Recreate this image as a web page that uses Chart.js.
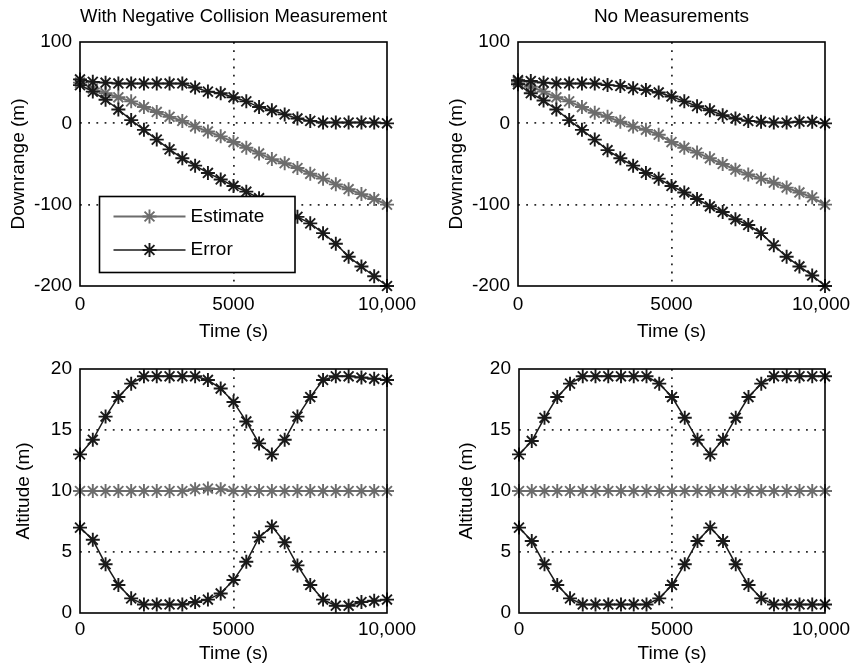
<!DOCTYPE html>
<html>
<head>
<meta charset="utf-8">
<script src="https://cdn.jsdelivr.net/npm/chart.js@4.4.1/dist/chart.umd.min.js"></script>
<style>
  body { margin: 0; background: #fff; overflow: hidden; }
  canvas { position: absolute; }
</style>
</head>
<body>
<canvas id="tl" width="426" height="345" style="left:0;top:0"></canvas>
<canvas id="tr" width="426" height="345" style="left:426px;top:0"></canvas>
<canvas id="bl" width="426" height="322" style="left:0;top:345px"></canvas>
<canvas id="br" width="426" height="322" style="left:426px;top:345px"></canvas>
<script>
// time samples (s)
const times = [0, 417, 833, 1250, 1667, 2083, 2500, 2917, 3333, 3750, 4167, 4583, 5000,
  5417, 5833, 6250, 6667, 7083, 7500, 7917, 8333, 8750, 9167, 9583, 10000];

const xTicks = [0, 5000, 10000];
const xTickLabels = ['0', '5000', '10,000'];
const downTicks = [-200, -100, 0, 100];
const downTickLabels = ['-200', '-100', '0', '100'];
const altTicks = [0, 5, 10, 15, 20];
const altTickLabels = ['0', '5', '10', '15', '20'];

const titles = ['With Negative Collision Measurement', 'No Measurements'];
const seriesNames = ['Estimate', 'Error'];

// downrange, with negative collision measurement
const tlEstimate = [50, 43, 37, 32, 27, 20, 14, 8, 3, -4, -10, -16, -23, -30, -37, -44, -49, -55, -62, -68, -75, -81, -87, -93, -100];
const tlUpper = [54, 51, 50, 49, 49, 49, 49, 49, 49, 44, 39, 37, 32, 27, 20, 16, 11, 6, 3, 1, 1, 1, 1, 1, 0];
const tlLower = [47, 39, 29, 17, 4, -8, -20, -32, -43, -52, -61, -69, -77, -84, -92, -100, -107, -115, -123, -135, -148, -164, -176, -188, -200];

// downrange, no measurements
const trEstimate = [51, 45, 39, 32, 27, 20, 13, 8, 2, -4, -8, -14, -23, -30, -36, -43, -50, -57, -63, -68, -73, -79, -85, -91, -100];
const trUpper = [53, 52, 50, 49, 49, 49, 49, 47, 46, 43, 41, 38, 33, 27, 21, 16, 10, 6, 3, 2, 1, 1, 2, 2, 0];
const trLower = [48, 37, 28, 17, 4, -8, -20, -33, -43, -52, -61, -68, -77, -85, -93, -102, -109, -118, -125, -135, -150, -164, -176, -187, -200];

// altitude, with negative collision measurement
const blEstimate = [10, 10, 10, 10, 10, 10, 10, 10, 10, 10.15, 10.2, 10.15, 10, 10, 10, 10, 10, 10, 10, 10, 10, 10, 10, 10, 10];
const blUpper = [13.0, 14.2, 16.1, 17.7, 18.8, 19.4, 19.4, 19.4, 19.4, 19.4, 19.1, 18.4, 17.3, 15.7, 13.9, 13.0, 14.2, 16.1, 17.7, 19.1, 19.4, 19.4, 19.3, 19.2, 19.1];
const blLower = [7.0, 6.0, 4.0, 2.3, 1.2, 0.7, 0.7, 0.7, 0.7, 0.9, 1.1, 1.6, 2.7, 4.2, 6.2, 7.1, 5.8, 3.9, 2.3, 1.1, 0.6, 0.6, 0.9, 1.0, 1.1];

// altitude, no measurements
const brEstimate = [10, 10, 10, 10, 10, 10, 10, 10, 10, 10, 10, 10, 10, 10, 10, 10, 10, 10, 10, 10, 10, 10, 10, 10, 10];
const brUpper = [13.0, 14.1, 16.0, 17.7, 18.8, 19.4, 19.4, 19.4, 19.4, 19.4, 19.4, 18.8, 17.7, 16.0, 14.2, 13.0, 14.2, 16.0, 17.7, 18.8, 19.4, 19.4, 19.4, 19.4, 19.4];
const brLower = [7.0, 5.9, 4.0, 2.3, 1.2, 0.7, 0.7, 0.7, 0.7, 0.7, 0.7, 1.2, 2.3, 4.0, 5.9, 7.0, 5.9, 4.0, 2.3, 1.2, 0.7, 0.7, 0.7, 0.7, 0.7];

const EST_COLOR = '#6c6c6c';
const ERR_COLOR = '#1a1a1a';
const FONT = { family: '"Liberation Sans", Arial, Helvetica, sans-serif', size: 19 };
const HALF_LINE = FONT.size * 1.2 / 2;

Chart.defaults.font.family = FONT.family;
Chart.defaults.font.size = FONT.size;
Chart.defaults.color = '#000';

function drawStar(ctx, x, y, r) {
  const d = r * Math.SQRT1_2;
  ctx.beginPath();
  ctx.moveTo(x - r, y); ctx.lineTo(x + r, y);
  ctx.moveTo(x, y - r); ctx.lineTo(x, y + r);
  ctx.moveTo(x - d, y - d); ctx.lineTo(x + d, y + d);
  ctx.moveTo(x - d, y + d); ctx.lineTo(x + d, y - d);
  ctx.stroke();
}

// black box round the plot area
const boxPlugin = {
  id: 'box',
  afterDatasetsDraw(chart) {
    const { ctx, chartArea: a } = chart;
    ctx.save();
    ctx.strokeStyle = '#000';
    ctx.lineWidth = 1.6;
    ctx.strokeRect(a.left, a.top, a.right - a.left, a.bottom - a.top);
    ctx.restore();
  }
};

// pull the last x label in a little so it stays inside the page
const lastLabelShift = {
  id: 'lastLabelShift',
  beforeDraw(chart, args, opts) {
    if (!opts.dx) return;
    const items = chart.scales.x.getLabelItems();
    const last = items[items.length - 1];
    if (last && last.options && last.options.translation) last.options.translation[0] += opts.dx;
  }
};

// boxed legend inside the plot
const legendBox = {
  id: 'legendBox',
  afterDraw(chart, args, opts) {
    if (!opts.show) return;
    const ctx = chart.ctx;
    ctx.save();
    ctx.fillStyle = '#fff';
    ctx.fillRect(opts.x, opts.y, opts.w, opts.h);
    ctx.strokeStyle = '#000';
    ctx.lineWidth = 1.6;
    ctx.strokeRect(opts.x, opts.y, opts.w, opts.h);
    seriesNames.forEach((name, i) => {
      const ds = chart.data.datasets.find(d => d.label === name);
      const y = opts.y + opts.rowTop + i * opts.rowGap;
      ctx.strokeStyle = ds.borderColor;
      ctx.lineWidth = ds.borderWidth;
      ctx.beginPath();
      ctx.moveTo(opts.x + opts.lineStart, y);
      ctx.lineTo(opts.x + opts.lineEnd, y);
      ctx.stroke();
      ctx.lineWidth = ds.pointBorderWidth;
      drawStar(ctx, opts.x + (opts.lineStart + opts.lineEnd) / 2, y, ds.pointRadius);
      ctx.fillStyle = '#000';
      ctx.font = FONT.size + 'px ' + FONT.family;
      ctx.textBaseline = 'middle';
      ctx.textAlign = 'left';
      ctx.fillText(name, opts.x + opts.textStart, y);
    });
    ctx.restore();
  }
};

function series(values, label, color, width) {
  return {
    label,
    data: times.map((t, i) => ({ x: t, y: values[i] })),
    borderColor: color,
    backgroundColor: color,
    borderWidth: width,
    pointStyle: 'star',
    pointRadius: 7,
    pointBorderWidth: 1.9,
    pointBorderColor: color,
    pointBackgroundColor: color,
    tension: 0,
    clip: false
  };
}

function makeChart(id, cfg) {
  const yMin = cfg.yTicks[0];
  const yMax = cfg.yTicks[cfg.yTicks.length - 1];
  const innerGrid = (lo, hi) => c =>
    (c.tick && c.tick.value > lo && c.tick.value < hi) ? '#2a2a2a' : 'rgba(0,0,0,0)';

  return new Chart(document.getElementById(id), {
    type: 'line',
    data: {
      datasets: [
        series(cfg.upper, 'Error', ERR_COLOR, 1.5),
        series(cfg.lower, 'Error', ERR_COLOR, 1.5),
        series(cfg.estimate, 'Estimate', EST_COLOR, 2)
      ]
    },
    options: {
      responsive: false,
      animation: false,
      layout: { padding: { left: cfg.padLeft, right: cfg.padRight, top: cfg.padTop, bottom: 0 } },
      scales: {
        x: {
          type: 'linear',
          min: 0,
          max: 10000,
          afterBuildTicks: s => { s.ticks = xTicks.map(v => ({ value: v })); },
          afterFit: s => { s.height = cfg.xHeight; s.paddingLeft = 0; s.paddingRight = 0; },
          ticks: {
            padding: cfg.xTickPad,
            maxRotation: 0,
            autoSkip: false,
            callback: v => xTickLabels[xTicks.indexOf(v)]
          },
          grid: { color: innerGrid(0, 10000), lineWidth: 1.8, drawTicks: false },
          border: { display: false, dash: [1.8, 6.4] },
          title: { display: true, text: 'Time (s)', padding: { top: 0, bottom: 13 - HALF_LINE } }
        },
        y: {
          type: 'linear',
          min: yMin,
          max: yMax,
          afterBuildTicks: s => { s.ticks = cfg.yTicks.map(v => ({ value: v })); },
          afterFit: s => { s.width = cfg.yWidth; },
          ticks: {
            padding: 8,
            autoSkip: false,
            callback: v => cfg.yLabels[cfg.yTicks.indexOf(v)]
          },
          grid: { color: innerGrid(yMin, yMax), lineWidth: 1.8, drawTicks: false },
          border: { display: false, dash: [1.8, 6.4] },
          title: { display: true, text: cfg.yTitle, padding: { top: cfg.yTitleX - HALF_LINE, bottom: 0 } }
        }
      },
      plugins: {
        legend: { display: false },
        tooltip: { enabled: false },
        title: {
          display: !!cfg.title,
          text: cfg.title || '',
          fullSize: false,
          font: { size: FONT.size, weight: 'normal' },
          color: '#000',
          padding: { top: 17 - HALF_LINE, bottom: 42 - 17 - HALF_LINE }
        },
        legendBox: cfg.legend || { show: false },
        lastLabelShift: { dx: cfg.lastDx || 0 }
      }
    },
    plugins: [boxPlugin, lastLabelShift, legendBox]
  });
}

makeChart('tl', {
  estimate: tlEstimate, upper: tlUpper, lower: tlLower,
  yTicks: downTicks, yLabels: downTickLabels, yTitle: 'Downrange (m)', title: titles[0],
  padLeft: 0, padRight: 39, padTop: 0, yWidth: 80, xHeight: 59, xTickPad: 7, yTitleX: 18.3,
  legend: { show: true, x: 99.5, y: 196.5, w: 195.5, h: 76, rowTop: 20, rowGap: 33.5,
            lineStart: 14, lineEnd: 86, textStart: 91 }
});
makeChart('tr', {
  estimate: trEstimate, upper: trUpper, lower: trLower,
  yTicks: downTicks, yLabels: downTickLabels, yTitle: 'Downrange (m)', title: titles[1],
  padLeft: 12, padRight: 27, padTop: 0, yWidth: 80, xHeight: 59, xTickPad: 7, yTitleX: 18.7,
  lastDx: -4
});
makeChart('bl', {
  estimate: blEstimate, upper: blUpper, lower: blLower,
  yTicks: altTicks, yLabels: altTickLabels, yTitle: 'Altitude (m)', title: null,
  padLeft: 0, padRight: 39, padTop: 24, yWidth: 80, xHeight: 54, xTickPad: 5, yTitleX: 24.2
});
makeChart('br', {
  estimate: brEstimate, upper: brUpper, lower: brLower,
  yTicks: altTicks, yLabels: altTickLabels, yTitle: 'Altitude (m)', title: null,
  padLeft: 13, padRight: 27, padTop: 24, yWidth: 80, xHeight: 54, xTickPad: 5, yTitleX: 27.8,
  lastDx: -4
});
</script>
</body>
</html>
